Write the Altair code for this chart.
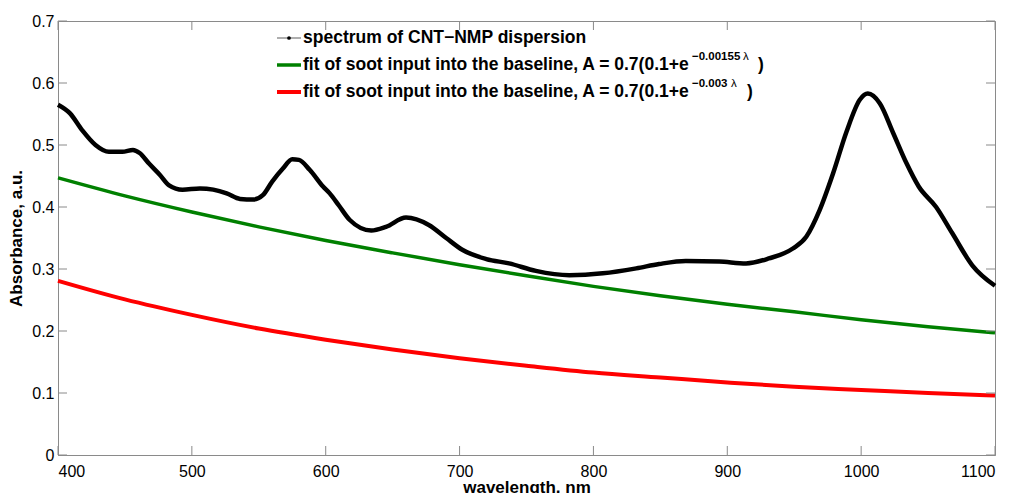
import altair as alt
import pandas as pd

# ---- data ----
wl_spec = [400, 409, 418, 428, 438, 448, 456, 461, 468, 476, 483, 493, 506, 516, 526,
           536, 546, 553, 560, 568, 575, 580, 588, 598, 603, 610, 618, 634, 645, 660,
           677, 690, 702, 720, 737, 757, 782, 807, 832, 849, 869, 894, 914, 931, 949,
           959, 969, 979, 989, 999, 1005, 1014, 1024, 1034, 1043, 1056, 1068, 1083, 1100]
abs_spec = [0.565, 0.551, 0.524, 0.500, 0.489, 0.489, 0.492, 0.487, 0.470, 0.452, 0.435,
            0.428, 0.430, 0.428, 0.422, 0.413, 0.412, 0.419, 0.441, 0.462, 0.477, 0.476,
            0.460, 0.433, 0.422, 0.402, 0.379, 0.362, 0.368, 0.383, 0.371, 0.350, 0.331,
            0.316, 0.309, 0.297, 0.290, 0.293, 0.301, 0.308, 0.313, 0.312, 0.309, 0.317,
            0.333, 0.352, 0.395, 0.454, 0.521, 0.573, 0.583, 0.567, 0.519, 0.470, 0.433,
            0.400, 0.358, 0.306, 0.273]

wl_fit = [400, 450, 500, 550, 600, 650, 700, 750, 800, 850, 900, 950, 1000, 1050, 1100]
abs_green = [0.447, 0.418, 0.392, 0.368, 0.346, 0.326, 0.307, 0.289, 0.272, 0.257,
             0.243, 0.231, 0.218, 0.207, 0.197]
abs_red = [0.281, 0.251, 0.226, 0.204, 0.186, 0.170, 0.156, 0.144, 0.133, 0.125,
           0.117, 0.110, 0.105, 0.100, 0.096]

x_ticks = [400, 500, 600, 700, 800, 900, 1000, 1100]
y_ticks = [0, 0.1, 0.2, 0.3, 0.4, 0.5, 0.6, 0.7]

legend_spec = "spectrum of CNT\u2212NMP dispersion"
legend_fit = "fit of soot input into the baseline, A = 0.7(0.1+e"
exp_green = "\u22120.00155"
exp_red = "\u22120.003"
lam = "\u03bb"

W, H = 937, 434
FONT = "Liberation Sans"
AX = "#8a8a8a"

spec = pd.DataFrame({"wl": wl_spec, "A": abs_spec})
green = pd.DataFrame({"wl": wl_fit, "A": abs_green})
red = pd.DataFrame({"wl": wl_fit, "A": abs_red})

xs = alt.Scale(domain=[400, 1100], nice=False, zero=False)
ys = alt.Scale(domain=[0, 0.7], nice=False)

xax = alt.Axis(values=x_ticks, ticks=False, grid=False, labelFont=FONT, labelFontSize=16,
               labelColor="black", labelPadding=8, title="wavelength, nm",
               titleFont=FONT, titleFontSize=17, titleFontWeight="bold",
               titleColor="black", titlePadding=0, domainColor=AX, format="d")
yax = alt.Axis(values=y_ticks, ticks=False, grid=False, labelFont=FONT, labelFontSize=16,
               labelColor="black", labelPadding=4, title="Absorbance, a.u.",
               titleFont=FONT, titleFontSize=17, titleFontWeight="bold",
               titleColor="black", titlePadding=6, domainColor=AX, format="~g")

green_line = alt.Chart(green).mark_line(color="#008000", strokeWidth=3.5,
                                        interpolate="monotone").encode(
    x=alt.X("wl:Q", scale=xs, axis=xax), y=alt.Y("A:Q", scale=ys, axis=yax))
red_line = alt.Chart(red).mark_line(color="#ff0000", strokeWidth=4,
                                    interpolate="monotone").encode(
    x=alt.X("wl:Q", scale=xs), y=alt.Y("A:Q", scale=ys))
black_line = alt.Chart(spec).mark_line(color="black", strokeWidth=4.5,
                                       interpolate="monotone").encode(
    x=alt.X("wl:Q", scale=xs), y=alt.Y("A:Q", scale=ys))

xt = pd.DataFrame({"t": x_ticks})
yt = pd.DataFrame({"t": y_ticks})
tick_b = alt.Chart(xt).mark_rule(color=AX).encode(
    x=alt.X("t:Q", scale=xs), y=alt.value(H), y2=alt.value(H - 9))
tick_t = alt.Chart(xt).mark_rule(color=AX).encode(
    x=alt.X("t:Q", scale=xs), y=alt.value(0), y2=alt.value(9))
tick_l = alt.Chart(yt).mark_rule(color=AX).encode(
    y=alt.Y("t:Q", scale=ys), x=alt.value(0), x2=alt.value(9))
tick_r = alt.Chart(yt).mark_rule(color=AX).encode(
    y=alt.Y("t:Q", scale=ys), x=alt.value(W), x2=alt.value(W - 9))

one = pd.DataFrame({"a": [0]})
LX = 219   # legend symbol start (relative to plot)
TX = 245   # legend text start
rows = [17, 44, 71]
FS = 17.5
SUP = TX + 389   # start of exponent
SS = 11.5

def txt(x, y, s, size=FS, weight="bold"):
    return alt.Chart(one).mark_text(align="left", baseline="middle", font=FONT,
                                    fontSize=size, fontWeight=weight, color="black").encode(
        x=alt.value(x), y=alt.value(y), text=alt.value(s))

def sym(y, color, width):
    return alt.Chart(one).mark_rule(color=color, strokeWidth=width).encode(
        x=alt.value(LX), x2=alt.value(LX + 24), y=alt.value(y))

leg = [
    sym(rows[0], "#777777", 1.2),
    alt.Chart(one).mark_point(filled=True, color="black", size=14, opacity=1).encode(
        x=alt.value(LX + 12), y=alt.value(rows[0])),
    txt(TX, rows[0], legend_spec),
    sym(rows[1], "#008000", 3.5),
    txt(TX, rows[1], legend_fit),
    txt(SUP, rows[1] - 8, exp_green, size=SS),
    txt(SUP + 51, rows[1] - 8, lam, size=SS, weight="normal"),
    txt(SUP + 66, rows[1], ")"),
    sym(rows[2], "#ff0000", 4),
    txt(TX, rows[2], legend_fit),
    txt(SUP, rows[2] - 8, exp_red, size=SS),
    txt(SUP + 39, rows[2] - 8, lam, size=SS, weight="normal"),
    txt(SUP + 55, rows[2], ")"),
]

chart = alt.layer(green_line, red_line, black_line, tick_b, tick_t, tick_l, tick_r,
                  *leg).properties(
    width=W, height=H,
    autosize=alt.AutoSizeParams(type="none"),
    padding={"left": 58, "top": 21, "right": 21, "bottom": 38},
    background="white",
).configure_view(stroke=AX, strokeWidth=1)

chart.save("out.html", embed_options={"renderer": "svg", "actions": False})
